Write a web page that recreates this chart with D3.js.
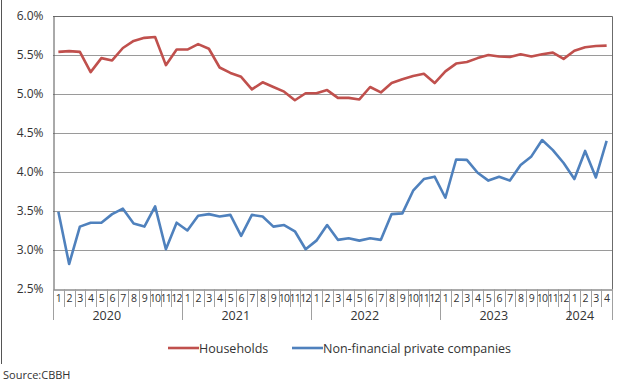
<!DOCTYPE html>
<html>
<head>
<meta charset="utf-8">
<script src="https://cdn.jsdelivr.net/npm/d3@7"></script>
<style>
body { margin:0; background:#fff; }
text { font-family: "Open Sans", "Noto Sans", sans-serif; fill:#333; }
</style>
</head>
<body>
<svg id="chart" width="629" height="382"></svg>
<script>
var years = [2020, 2021, 2022, 2023, 2024];
var monthsPerYear = [12, 12, 12, 12, 4];
var yTicks = [2.5, 3.0, 3.5, 4.0, 4.5, 5.0, 5.5, 6.0];

var households = [5.54,5.55,5.54,5.28,5.46,5.43,5.59,5.68,5.72,5.73,5.37,5.57,
                  5.57,5.64,5.58,5.34,5.27,5.22,5.06,5.15,5.09,5.03,4.92,5.01,
                  5.01,5.05,4.95,4.95,4.93,5.09,5.02,5.14,5.19,5.23,5.26,5.14,
                  5.29,5.39,5.41,5.46,5.50,5.48,5.475,5.51,5.48,5.51,5.53,5.45,
                  5.555,5.60,5.615,5.62];
var companies = [3.49,2.82,3.30,3.35,3.35,3.46,3.53,3.34,3.30,3.56,3.01,3.35,
                 3.25,3.44,3.46,3.43,3.45,3.18,3.45,3.43,3.30,3.32,3.24,3.01,
                 3.12,3.32,3.13,3.15,3.12,3.15,3.13,3.46,3.47,3.76,3.91,3.94,
                 3.67,4.16,4.155,3.99,3.89,3.94,3.89,4.09,4.20,4.41,4.28,4.115,
                 3.91,4.27,3.93,4.40];

var seriesNames = ["Households", "Non-financial private companies"];
var seriesColors = ["#C0504D", "#4F81BD"];

function drawChart() {
    // month list built from years
    var months = [];
    years.forEach(function(y, i){
        for (var m = 1; m <= monthsPerYear[i]; m++) months.push({year:y, month:m});
    });

    var svg = d3.select("#chart");
    var pLeft = 53, pRight = 612, pTop = 16, pBottom = 289;

    var x = d3.scaleBand().domain(d3.range(months.length)).range([pLeft, pRight]);
    var y = d3.scaleLinear().domain([2.5, 6.0]).range([pBottom, pTop]);

    // outer frame line
    svg.append("line").attr("x1",1.5).attr("x2",1.5).attr("y1",0).attr("y2",364)
        .attr("stroke","#555").attr("stroke-width",1);

    // gridlines
    svg.append("g").selectAll("line").data(yTicks.filter(function(d){return d>2.5 && d<6;}))
      .enter().append("line")
        .attr("x1",pLeft).attr("x2",pRight)
        .attr("y1",function(d){return Math.round(y(d))+0.5;})
        .attr("y2",function(d){return Math.round(y(d))+0.5;})
        .attr("stroke","#9a9a9a").attr("stroke-width",1);

    // plot frame top / right
    svg.append("path")
        .attr("d","M"+pLeft+","+(pTop+0.5)+"H"+(pRight+0.5)+"V"+pBottom)
        .attr("fill","none").attr("stroke","#6b6b6b").attr("stroke-width",1);

    // y axis
    var yAxis = svg.append("g")
        .attr("transform","translate("+(pLeft+0.5)+",0)")
        .call(d3.axisLeft(y).tickValues(yTicks).tickSize(0).tickPadding(10)
            .tickFormat(function(d){ return d3.format(".1f")(d)+"%"; }));
    yAxis.select(".domain").attr("stroke","#555");
    yAxis.selectAll("text").style("font-size","12px").attr("fill","#333");

    // x axis month labels
    var xAxis = svg.append("g")
        .attr("transform","translate(0,"+(pBottom+0.5)+")")
        .call(d3.axisBottom(x).tickSize(0).tickPadding(5)
            .tickFormat(function(i){ return months[i].month; }));
    xAxis.select(".domain").attr("stroke","#555");
    xAxis.selectAll("text").style("font-size","10.5px").attr("letter-spacing","-0.6px").attr("fill","#333");

    // separator ticks
    var sep = svg.append("g");
    d3.range(months.length + 1).forEach(function(i){
        var xp = (i < months.length ? x(i) : pRight);
        var isYear = (i === months.length) || months[i].month === 1;
        sep.append("line")
            .attr("x1",Math.round(xp)+0.5).attr("x2",Math.round(xp)+0.5)
            .attr("y1",pBottom).attr("y2", isYear ? 320 : 307)
            .attr("stroke","#a0a0a0").attr("stroke-width",1);
    });

    // year labels
    years.forEach(function(yr){
        var idx = months.map(function(m,i){return m.year===yr ? i : -1;}).filter(function(i){return i>=0;});
        var cx = (x(idx[0]) + x(idx[idx.length-1]) + x.bandwidth())/2 - x.step();
        svg.append("text").attr("x",cx).attr("y",320)
            .attr("text-anchor","middle").style("font-size","12.5px").text(yr);
    });

    // lines
    var line = d3.line()
        .x(function(d,i){ return x(i) + x.bandwidth()/2; })
        .y(function(d){ return y(d); });

    [households, companies].forEach(function(s, k){
        svg.append("path").datum(s)
            .attr("d", line)
            .attr("fill","none")
            .attr("stroke", seriesColors[k])
            .attr("stroke-width", 2.6)
            .attr("stroke-linejoin","round");
    });

    // legend
    var legendX = [168, 292];
    seriesNames.forEach(function(n, k){
        var g = svg.append("g").attr("transform","translate("+legendX[k]+",348)");
        g.append("line").attr("x1",0).attr("x2",31).attr("y1",0).attr("y2",0)
            .attr("stroke",seriesColors[k]).attr("stroke-width",2.6);
        g.append("text").attr("x",31).attr("y",4.5).style("font-size","12.5px").text(n);
    });

    svg.append("text").attr("x",3).attr("y",379).style("font-size","11px").text("Source:CBBH");
}

drawChart();
</script>
</body>
</html>
